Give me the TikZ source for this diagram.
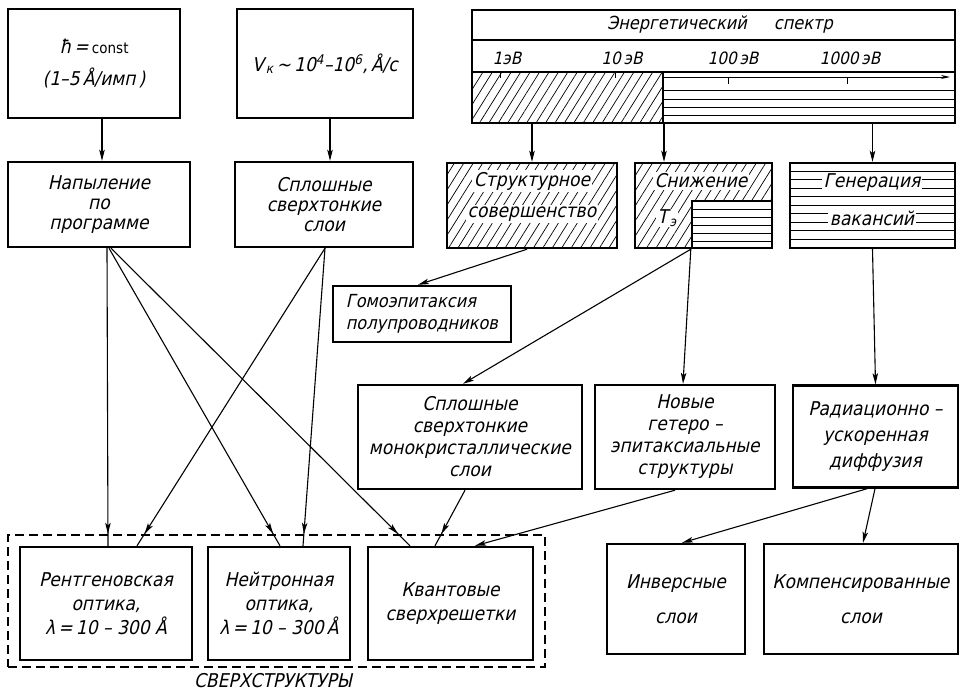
\documentclass[tikz,border=0pt]{standalone}
\usepackage{fontspec}
\setmainfont{DejaVu Sans Condensed}
\newfontfamily\gostsl{DejaVu Sans Condensed}[FakeSlant=0.22]
\newfontfamily\gostup{DejaVu Sans Condensed}
\usetikzlibrary{arrows.meta,patterns.meta,decorations.markings}
\newcommand\gf[2]{\gostsl\fontsize{#1}{#2}\selectfont}
\begin{document}
\begin{tikzpicture}[x=1pt,y=-1pt,
  box/.style={draw,line width=2.4pt,align=center,inner sep=0pt,font=\gf{19}{22}},
  tip/.style={-{Stealth[length=11pt,width=5.5pt,inset=2.5pt]}},
  conn/.style={line width=1.1pt,tip},
  atdash/.style={line width=1.1pt,postaction={decorate},
    decoration={markings,mark=at position -#1 with {\arrow{Stealth[length=11pt,width=5.5pt,inset=2.5pt]}}}},
  hatchd/.style={pattern={Lines[angle=58,distance=8pt,line width=0.7pt]}},
  thinl/.style={line width=0.9pt},
  lbl/.style={font=\gf{17}{20},inner sep=1pt},
  wlbl/.style={font=\gf{19}{22},inner sep=1.5pt,fill=white}
]
\useasboundingbox (0,0) rectangle (965,694);

% ---------- top row ----------
\node[box,minimum width=172pt,minimum height=109pt] (hc) at (94,63.5)
  {ħ\,=\,{\gostup\fontsize{15}{15}\selectfont const}\\[10pt](1–5\,Å/имп\,)};
\node[box,minimum width=176pt,minimum height=109pt] (vk) at (325,63.5)
  {\raisebox{-10pt}{V\kern2pt\textsubscript{к}\,∼\,10\textsuperscript{4}–10\textsuperscript{6},\,Å/с}};

% energy spectrum
\path[hatchd] (472,72) rectangle (663,123);
\foreach \yy in {90,99,107,115} \draw[thinl] (663,\yy) -- (955,\yy);
\draw[line width=1.2pt] (472,40) -- (955,40);
\draw[line width=1.2pt] (472,72) -- (955,72);
\draw[line width=1.4pt] (663,72) -- (663,123);
\draw[line width=1pt,-{Stealth[length=9pt,width=4pt]}] (663,77) -- (950,77);
\foreach \xx in {728,847} \draw[thinl] (\xx,77) -- (\xx,84);
\foreach \xx in {500,615} \draw[thinl] (\xx,72) -- (\xx,78);
\node[draw,line width=2.4pt,minimum width=483pt,minimum height=113pt,inner sep=0pt] (spec) at (713.5,66.5) {};
\node[lbl,font=\gf{18}{20}] (sptitle) at (720,25) {Энергетический\quad\enspace спектр};
\node[lbl] (e1) at (507,58) {1эВ};
\node[lbl] (e2) at (622,58) {10\,эВ};
\node[lbl] (e3) at (733,58) {100\,эВ};
\node[lbl] (e4) at (850,58) {1000\,эВ};

% ---------- second row ----------
\node[box,minimum width=182pt,minimum height=85pt,font=\gf{19}{20}] (nap) at (99,204.5)
  {Напыление\\по\\программе};
\node[box,minimum width=178pt,minimum height=85pt,font=\gf{19}{20}] (spl) at (324,204.5)
  {Сплошные\\сверхтонкие\\слои};
\node[box,hatchd,minimum width=170pt,minimum height=85pt] (struct) at (532,205.5) {};
\node[wlbl] (structa) at (532,181) {Структурное};
\node[wlbl] (structb) at (532,214) {совершенство};

\node[box,hatchd,minimum width=137pt,minimum height=85pt] (snizh) at (703.5,205.5) {};
\node[draw,line width=2.4pt,fill=white,minimum width=80pt,minimum height=47pt,inner sep=0pt] (tin) at (732,224.5) {};
\foreach \yy in {209,217,225,233,241} \draw[thinl] (692,\yy) -- (772,\yy);
\node[wlbl] (snizha) at (701,181) {Снижение};
\node[wlbl,inner sep=1pt] (snizhb) at (667,218) {T\kern2pt\textsubscript{э}};

\node[box,minimum width=165pt,minimum height=85pt] (gen) at (872.5,205.5) {};
\foreach \yy in {171,179.5,188,196.5,205,213.5,222,230.5,239} \draw[thinl] (790,\yy) -- (955,\yy);
\node[wlbl] (gena) at (872,183) {Генерация};
\node[wlbl] (genb) at (872,218) {вакансий};

\node[box,align=left,minimum width=178pt,minimum height=56pt,font=\gf{18}{22}] (gomo) at (422,314)
  {Гомоэпитаксия\\полупроводников};

% ---------- third row ----------
\node[box,minimum width=224pt,minimum height=104pt] (mono) at (470,437)
  {Сплошные\\сверхтонкие\\монокристаллические\\слои};
\node[box,minimum width=180pt,minimum height=104pt] (novye) at (685,437)
  {Новые\\гетеро –\\эпитаксиальные\\структуры};
\node[box,minimum width=165pt,minimum height=102pt,font=\gf{19}{26}] (rad) at (875.5,436.5)
  {Радиационно –\\ускоренная\\диффузия};

% ---------- bottom row ----------
\node[draw,line width=1.5pt,dash pattern=on 9pt off 5pt,minimum width=537pt,minimum height=132pt,inner sep=0pt] (grp) at (276.5,601) {};
\node[box,minimum width=172pt,minimum height=113pt,font=\gf{19}{24}] (rent) at (106,603.5)
  {Рентгеновская\\оптика,\\λ\,=\,10 – 300 Å};
\node[box,minimum width=142pt,minimum height=113pt,font=\gf{19}{24}] (neit) at (279,603.5)
  {Нейтронная\\оптика,\\λ\,=\,10 – 300\,Å};
\node[box,minimum width=165pt,minimum height=113pt,font=\gf{19}{24}] (kvant) at (450.5,603.5)
  {Квантовые\\сверхрешетки};
\node[box,minimum width=138pt,minimum height=110pt,font=\gf{19}{35}] (inv) at (676,599)
  {Инверсные\\слои};
\node[box,minimum width=194pt,minimum height=110pt,font=\gf{19}{35}] (komp) at (861,599)
  {Компенсированные\\слои};
\node[font=\gf{19}{21},inner sep=0pt] (grplbl) at (273,681) {СВЕРХСТРУКТУРЫ};

% ---------- connectors ----------
\draw[conn] ([xshift=8pt]hc.south) -- ([xshift=3pt]nap.north);
\draw[conn] ([xshift=5pt]vk.south) -- ([xshift=6pt]spl.north);
\draw[conn] (spec.south -| struct.north) -- (struct.north);
\coordinate (s2) at ([xshift=-39.5pt]snizh.north);
\draw[conn] (s2 |- spec.south) -- (s2);
\draw[conn] (gen.north |- spec.south) -- (gen.north);

\draw[conn] ([xshift=-5pt]struct.south) -- ([xshift=-4pt]gomo.north);
\draw[conn] (tin.south west) -- ([xshift=-7pt]mono.north);
\draw[conn] (tin.south west) -- ([xshift=-2pt]novye.north);
\draw[conn] (gen.south) -- (rad.north);

\draw[atdash=12pt] ([xshift=8pt]nap.south) -- ([xshift=2pt]rent.north);
\draw[atdash=14pt] ([xshift=10pt]nap.south) -- ([xshift=1pt]neit.north);
\draw[atdash=17pt] ([xshift=12pt]nap.south) -- ([xshift=-40.5pt]kvant.north);
\draw[atdash=14pt] ([xshift=1pt]spl.south) -- ([xshift=31pt]rent.north);
\draw[atdash=12pt] ([xshift=1pt]spl.south) -- ([xshift=24pt]neit.north);
\draw[atdash=13.5pt] ([xshift=-5pt]mono.south) -- ([xshift=-15.5pt]kvant.north);
\draw[conn] ([xshift=-10pt]novye.south) -- ([xshift=24.5pt]kvant.north);
\draw[conn] ([xshift=-8.5pt]rad.south) -- ([xshift=6pt]inv.north);
\draw[conn] ([xshift=-0.5pt]rad.south) -- ([xshift=2pt]komp.north);
\end{tikzpicture}
\end{document}
